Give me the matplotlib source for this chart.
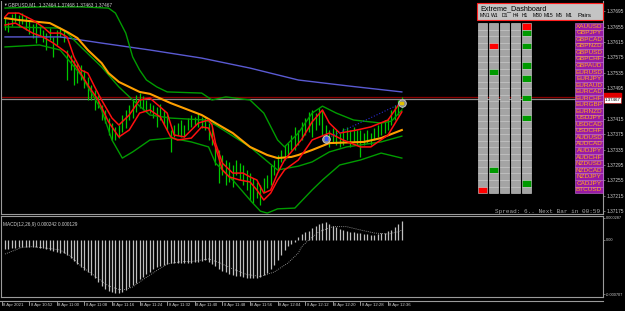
import numpy as np
import matplotlib.pyplot as plt
from matplotlib.patches import Rectangle

# GBPUSD M1, 8 Apr 2021, one bar per minute from 10:45 to 12:40
bar_high = [1.37677, 1.37667, 1.37688, 1.37693, 1.37685, 1.37690, 1.37682, 1.37672, 1.37662, 1.37667,
            1.37656, 1.37646, 1.37638, 1.37651, 1.37628, 1.37646, 1.37651, 1.37646, 1.37594, 1.37581,
            1.37568, 1.37560, 1.37555, 1.37542, 1.37524, 1.37503, 1.37490, 1.37477, 1.37451, 1.37438,
            1.37417, 1.37404, 1.37394, 1.37399, 1.37425, 1.37438, 1.37451, 1.37464, 1.37477, 1.37482,
            1.37474, 1.37464, 1.37456, 1.37451, 1.37446, 1.37454, 1.37438, 1.37425, 1.37386, 1.37399,
            1.37404, 1.37412, 1.37399, 1.37417, 1.37425, 1.37420, 1.37430, 1.37420, 1.37417, 1.37404,
            1.37391, 1.37347, 1.37334, 1.37321, 1.37308, 1.37303, 1.37295, 1.37308, 1.37300, 1.37295,
            1.37282, 1.37274, 1.37261, 1.37251, 1.37243, 1.37261, 1.37269, 1.37295, 1.37308, 1.37321,
            1.37334, 1.37347, 1.37352, 1.37373, 1.37394, 1.37386, 1.37407, 1.37417, 1.37433, 1.37438,
            1.37430, 1.37443, 1.37438, 1.37399, 1.37386, 1.37391, 1.37386, 1.37378, 1.37391, 1.37394,
            1.37386, 1.37394, 1.37386, 1.37386, 1.37378, 1.37386, 1.37378, 1.37391, 1.37399, 1.37407,
            1.37412, 1.37417, 1.37438, 1.37451, 1.37464, 1.37472]
bar_low = [1.37646, 1.37641, 1.37656, 1.37667, 1.37654, 1.37662, 1.37646, 1.37636, 1.37625, 1.37612,
           1.37630, 1.37615, 1.37594, 1.37620, 1.37576, 1.37607, 1.37628, 1.37615, 1.37516, 1.37542,
           1.37503, 1.37508, 1.37516, 1.37495, 1.37464, 1.37464, 1.37438, 1.37443, 1.37412, 1.37404,
           1.37373, 1.37360, 1.37360, 1.37365, 1.37381, 1.37391, 1.37412, 1.37417, 1.37433, 1.37443,
           1.37438, 1.37433, 1.37430, 1.37417, 1.37394, 1.37412, 1.37399, 1.37386, 1.37329, 1.37368,
           1.37373, 1.37368, 1.37368, 1.37386, 1.37394, 1.37399, 1.37394, 1.37391, 1.37386, 1.37360,
           1.37347, 1.37295, 1.37248, 1.37269, 1.37243, 1.37251, 1.37238, 1.37269, 1.37256, 1.37243,
           1.37230, 1.37204, 1.37196, 1.37209, 1.37191, 1.37225, 1.37235, 1.37243, 1.37269, 1.37282,
           1.37303, 1.37308, 1.37316, 1.37334, 1.37334, 1.37347, 1.37360, 1.37373, 1.37381, 1.37368,
           1.37386, 1.37399, 1.37373, 1.37360, 1.37342, 1.37355, 1.37347, 1.37342, 1.37347, 1.37360,
           1.37342, 1.37355, 1.37347, 1.37316, 1.37347, 1.37352, 1.37347, 1.37360, 1.37368, 1.37373,
           1.37378, 1.37386, 1.37399, 1.37412, 1.37425, 1.37443]

# indicator lines, read at selected bars
blue_idx = [0, 16, 28, 42, 57, 71, 85, 100, 115]
blue_ma = [1.37628, 1.37628, 1.37612, 1.37594, 1.37573, 1.37547, 1.37516, 1.37500, 1.37485]

bbu_idx = [0, 10, 22, 30, 32, 35, 37, 39, 41, 44, 47, 57, 60, 64, 71, 75, 79, 81, 85, 89, 92, 96, 101, 109, 112, 115]
bb_upper = [1.37703, 1.37706, 1.37706, 1.37703, 1.37690, 1.37638, 1.37576, 1.37542, 1.37516, 1.37498,
            1.37485, 1.37482, 1.37464, 1.37472, 1.37464, 1.37430, 1.37360, 1.37342, 1.37378, 1.37430,
            1.37448, 1.37430, 1.37412, 1.37404, 1.37409, 1.37438]

bbm_idx = [0, 16, 18, 22, 28, 33, 37, 42, 48, 58, 61, 71, 79, 85, 89, 94, 99, 109, 115]
bb_middle = [1.37654, 1.37651, 1.37638, 1.37602, 1.37550, 1.37498, 1.37464, 1.37425, 1.37417, 1.37412,
             1.37399, 1.37342, 1.37282, 1.37292, 1.37303, 1.37329, 1.37342, 1.37355, 1.37370]

bbl_idx = [0, 10, 16, 22, 28, 31, 34, 37, 42, 48, 54, 59, 61, 66, 71, 74, 76, 79, 84, 89, 92, 97, 103, 109, 115]
bb_lower = [1.37602, 1.37607, 1.37594, 1.37529, 1.37438, 1.37360, 1.37313, 1.37329, 1.37360, 1.37365,
            1.37355, 1.37342, 1.37300, 1.37256, 1.37204, 1.37175, 1.37170, 1.37181, 1.37183, 1.37230,
            1.37256, 1.37295, 1.37308, 1.37326, 1.37313]

orange_idx = [0, 4, 13, 18, 21, 24, 28, 30, 33, 39, 42, 48, 57, 61, 66, 71, 76, 79, 83, 85, 89, 94, 104, 109, 115]
orange_ma = [1.37677, 1.37672, 1.37664, 1.37641, 1.37625, 1.37594, 1.37560, 1.37534, 1.37511, 1.37485,
             1.37480, 1.37456, 1.37425, 1.37404, 1.37378, 1.37342, 1.37321, 1.37313, 1.37316, 1.37321,
             1.37334, 1.37352, 1.37355, 1.37365, 1.37386]

rhi_idx = [0, 1, 4, 8, 11, 13, 16, 18, 20, 22, 24, 26, 28, 31, 33, 36, 39, 42, 47, 49, 52, 56,
           59, 60, 61, 63, 66, 69, 71, 73, 75, 77, 79, 81, 84, 86, 89, 92, 94, 97, 102, 106, 111, 115]
red_high = [1.37680, 1.37690, 1.37690, 1.37672, 1.37654, 1.37638, 1.37638, 1.37628, 1.37576, 1.37542,
            1.37534, 1.37498, 1.37464, 1.37417, 1.37399, 1.37425, 1.37464, 1.37469, 1.37430, 1.37373,
            1.37368, 1.37404, 1.37412, 1.37399, 1.37352, 1.37300, 1.37274, 1.37274, 1.37264, 1.37256,
            1.37222, 1.37230, 1.37274, 1.37308, 1.37340, 1.37362, 1.37407, 1.37438, 1.37404, 1.37378,
            1.37386, 1.37394, 1.37412, 1.37464]

rlo_idx = [0, 3, 8, 11, 14, 18, 21, 24, 27, 30, 33, 36, 39, 42, 45, 48, 50, 54, 57, 59,
           61, 63, 65, 68, 71, 73, 75, 77, 79, 81, 85, 89, 94, 98, 103, 106, 111, 115]
red_low = [1.37659, 1.37664, 1.37638, 1.37628, 1.37612, 1.37586, 1.37547, 1.37503, 1.37464, 1.37407,
           1.37368, 1.37386, 1.37430, 1.37438, 1.37420, 1.37368, 1.37360, 1.37365, 1.37394, 1.37391,
           1.37342, 1.37282, 1.37264, 1.37256, 1.37251, 1.37230, 1.37204, 1.37222, 1.37256, 1.37282,
           1.37308, 1.37360, 1.37378, 1.37360, 1.37342, 1.37342, 1.37373, 1.37433]

bid_price = 1.37467
ask_price = 1.37473
trade_idx = [93, 115]
trade_price = [1.37363, 1.37456]

# MACD(12,26,9)
macd_hist = [-0.000117, -0.000114, -0.000108, -0.000102, -0.000095, -0.000091, -0.000089, -0.000087, -0.000087, -0.000091,
             -0.000100, -0.000108, -0.000120, -0.000131, -0.000144, -0.000153, -0.000164, -0.000176, -0.000202, -0.000235,
             -0.000274, -0.000317, -0.000352, -0.000398, -0.000424, -0.000463, -0.000496, -0.000542, -0.000594, -0.000639,
             -0.000666, -0.000683, -0.000694, -0.000692, -0.000679, -0.000653, -0.000617, -0.000587, -0.000555, -0.000515,
             -0.000479, -0.000444, -0.000414, -0.000385, -0.000352, -0.000335, -0.000326, -0.000313, -0.000304, -0.000300,
             -0.000298, -0.000296, -0.000296, -0.000296, -0.000296, -0.000290, -0.000281, -0.000271, -0.000261, -0.000281,
             -0.000307, -0.000339, -0.000378, -0.000405, -0.000424, -0.000441, -0.000457, -0.000467, -0.000476, -0.000487,
             -0.000496, -0.000498, -0.000498, -0.000496, -0.000483, -0.000457, -0.000428, -0.000378, -0.000320, -0.000261,
             -0.000196, -0.000131, -0.000085, -0.000046, -0.000020, 0.000039, 0.000072, 0.000098, 0.000117, 0.000157,
             0.000189, 0.000215, 0.000228, 0.000235, 0.000209, 0.000183, 0.000163, 0.000144, 0.000124, 0.000111,
             0.000104, 0.000098, 0.000091, 0.000085, 0.000078, 0.000072, 0.000065, 0.000069, 0.000076, 0.000085,
             0.000091, 0.000111, 0.000131, 0.000170, 0.000215, 0.000242]
sig_idx = [0, 5, 8, 13, 16, 19, 22, 25, 28, 30, 33, 35, 37, 39, 42, 45, 47, 51, 54, 59,
           62, 66, 70, 74, 78, 82, 85, 86, 88, 91, 95, 99, 103, 107, 111, 114, 115]
macd_signal = [-0.000183, -0.000095, -0.000087, -0.000111, -0.000131, -0.000209, -0.000339, -0.000435, -0.000535, -0.000600,
               -0.000646, -0.000646, -0.000613, -0.000548, -0.000457, -0.000369, -0.000313, -0.000283, -0.000281, -0.000248,
               -0.000294, -0.000378, -0.000450, -0.000476, -0.000418, -0.000300, -0.000170, -0.000087, 0.0, 0.000108,
               0.000174, 0.000174, 0.000131, 0.000091, 0.000078, 0.000108, 0.000129]

price_ticks = [1.37695, 1.37655, 1.37615, 1.37575, 1.37535, 1.37495, 1.37415,
               1.37375, 1.37335, 1.37295, 1.37255, 1.37215, 1.37175]
macd_ticks = [0.000287, 0.0, -0.000707]
macd_tick_labels = ['0.000287', '0.00', '-0.000707']
time_pos = [-1, 7, 15, 23, 31, 39, 47, 55, 63, 71, 79, 87, 95, 103, 111]
time_labels = ['8 Apr 2021', '8 Apr 10:52', '8 Apr 11:00', '8 Apr 11:08', '8 Apr 11:16',
               '8 Apr 11:24', '8 Apr 11:32', '8 Apr 11:40', '8 Apr 11:48', '8 Apr 11:56',
               '8 Apr 12:04', '8 Apr 12:12', '8 Apr 12:20', '8 Apr 12:28', '8 Apr 12:36']

# dashboard content
timeframes = ['MN1', 'W1', 'D1', 'H4', 'H1', 'M30', 'M15', 'M5', 'M1']
pairs = ['XAUUSD', 'GBPJPY', 'GBPCAD', 'GBPNZD', 'GBPUSD', 'GBPCHF', 'GBPAUD', 'EURUSD',
         'EURJPY', 'EURAUD', 'EURCAD', 'EURCHF', 'EURGBP', 'EURNZD', 'USDJPY', 'USDCAD',
         'USDCHF', 'AUDUSD', 'AUDCAD', 'AUDJPY', 'AUDCHF', 'NZDUSD', 'NZDCAD', 'NZDJPY',
         'CADJPY', 'BTCUSD']
red_cells = {'MN1': ['BTCUSD'], 'W1': ['GBPNZD'], 'H1': ['XAUUSD']}
green_cells = {'W1': ['EURUSD', 'NZDCAD'],
               'H1': ['GBPJPY', 'GBPNZD', 'GBPAUD', 'EURJPY', 'EURCHF', 'USDJPY', 'CADJPY']}

W, H = 625, 311
fig = plt.figure(figsize=(W / 100, H / 100), dpi=100)
fig.patch.set_facecolor('black')
font = ['Liberation Sans', 'DejaVu Sans']
frame = '#9a9a9a'
txt = '#cfcfcf'


def axes_px(x0, y0, x1, y1):
    return fig.add_axes([x0 / W, 1 - y1 / H, (x1 - x0) / W, (y1 - y0) / H])


xlim = (-1.16, 173.3)
x = np.arange(len(bar_high))

# main price window
ax = axes_px(1, 1, 603, 214)
ax.set_facecolor('black')
ax.set_xlim(*xlim)
ax.set_ylim(1.371676, 1.377214)
ax.vlines(x, bar_low, bar_high, color='#00c800', lw=0.9, zorder=2)
ax.plot(blue_idx, blue_ma, color='#5a5ad2', lw=1, zorder=3)
ax.plot(bbu_idx, bb_upper, color='#009c00', lw=1, zorder=3)
ax.plot(bbm_idx, bb_middle, color='#009c00', lw=1, zorder=3)
ax.plot(bbl_idx, bb_lower, color='#009c00', lw=1, zorder=3)
ax.plot(orange_idx, orange_ma, color='#ffa000', lw=1.5, zorder=3)
ax.plot(rhi_idx, red_high, color='#ff1010', lw=1.1, zorder=3)
ax.plot(rlo_idx, red_low, color='#ff1010', lw=1.1, zorder=3)
ax.axhline(ask_price, color='#8b0000', lw=0.9, zorder=1)
ax.axhline(bid_price, color='#8c8c8c', lw=0.9, zorder=1)
ax.plot(trade_idx, trade_price, ls=':', color='#2a2ad0', lw=0.8, zorder=4)
ax.scatter(trade_idx, trade_price, s=30, color='#8a8a8a', edgecolors='#d0d0d0', linewidths=0.6, zorder=5)
ax.scatter(trade_idx, trade_price, s=4, marker='s', color=['#3050ff', '#e0c000'], zorder=6)

ax.yaxis.tick_right()
ax.set_yticks(price_ticks)
ax.set_yticklabels([f'{p:.5f}' for p in price_ticks], family=font)
ax.tick_params(axis='y', labelsize=3.4, labelcolor=txt, color=frame, length=1.5, width=0.5, pad=0.8)
ax.set_xticks([])
for s in ax.spines.values():
    s.set_color(frame)
    s.set_linewidth(0.8)
ax.spines['top'].set_visible(False)

yt = ax.get_yaxis_transform()
ax.text(1.003, ask_price + 0.00002, '1.37473', transform=yt, fontsize=3.2, color='#e00000', va='center',
        family=font, bbox=dict(boxstyle='square,pad=0.12', fc='#e00000', ec='#e00000'), zorder=7)
ax.text(1.003, bid_price - 0.00003, '1.37467', transform=yt, fontsize=3.2, color='black', va='center',
        family=font, bbox=dict(boxstyle='square,pad=0.12', fc='white', ec='#c00000', lw=0.4), zorder=8)

# MACD window
ax2 = axes_px(1, 216, 603, 297)
ax2.set_facecolor('black')
ax2.set_xlim(*xlim)
ax2.set_ylim(-0.000744, 0.000313)
ax2.vlines(x, 0, macd_hist, color='#c0c0c0', lw=0.9)
ax2.plot(sig_idx, macd_signal, color='#b0b0b0', ls=(0, (1, 1.5)), lw=0.6)
ax2.yaxis.tick_right()
ax2.set_yticks(macd_ticks)
ax2.set_yticklabels(macd_tick_labels, family=font)
ax2.tick_params(axis='y', labelsize=2.8, labelcolor=txt, color=frame, length=1.5, width=0.5, pad=0.8)
ax2.set_xticks([])
for s in ax2.spines.values():
    s.set_color(frame)
    s.set_linewidth(0.8)
ax2.text(0.003, 0.92, 'MACD(12,26,9) 0.000242 0.000129', transform=ax2.transAxes,
         fontsize=3.4, color=txt, va='top', family=font)

xt = ax2.get_xaxis_transform()
for pos, lab in zip(time_pos, time_labels):
    ax2.plot([pos, pos], [-0.05, -0.1], transform=xt, clip_on=False, color=txt, lw=0.5)
    ax2.text(pos + 0.4, -0.1, lab, transform=xt, fontsize=3.1, color=txt,
             ha='left', va='center', family=font)

# overlay in pixel units: header text, dashboard, status text
ov = fig.add_axes([0, 0, 1, 1])
ov.set_xlim(0, W)
ov.set_ylim(H, 0)
ov.axis('off')
ov.patch.set_alpha(0)
ov.set_zorder(10)

ov.plot([0, 603], [301, 301], color=frame, lw=0.8)
ov.text(3, 5, '▼', fontsize=2.6, color=txt, va='center', family=font)
ov.text(8, 5, 'GBPUSD,M1  1.37464 1.37468 1.37463 1.37467', fontsize=3.4,
        color=txt, va='center', family=font)

ov.add_patch(Rectangle((477, 3), 126, 17, fc='#c4c4c4', ec='#ff2020', lw=0.8))
ov.text(480, 8.6, 'Extreme_Dashboard', fontsize=5.2, color='black', va='center', family=font)
tf_x = [480, 491, 502, 513, 522, 533, 544, 556, 566, 578]
for xx, lab in zip(tf_x, timeframes + ['Pairs']):
    ov.text(xx, 15.6, lab, fontsize=3.6 if lab != 'Pairs' else 4.4, color='black',
            va='center', family=font)

row_h = 6.54
for c, tf in enumerate(timeframes[:5]):
    for r, pair in enumerate(pairs):
        fc = '#a4a4a4'
        if pair in red_cells.get(tf, []):
            fc = '#ff0000'
        elif pair in green_cells.get(tf, []):
            fc = '#009a00'
        ov.add_patch(Rectangle((478 + 11 * c, 23 + r * row_h), 9, row_h,
                               fc=fc, ec='#d6d6d6', lw=0.4))

for r, pair in enumerate(pairs):
    ov.add_patch(Rectangle((575, 23 + r * row_h), 28, row_h, fc='#981aa6', ec='#c878d8', lw=0.4))
    ov.text(589, 23 + (r + 0.5) * row_h, pair, fontsize=4.6, color='#ffa820',
            ha='center', va='center', family=font)

ov.text(600, 211, 'Spread: 6.. Next Bar in 00:59', fontsize=4.3, color='#a8a8a8',
        ha='right', va='center', family=['Liberation Mono', 'DejaVu Sans Mono'])

fig.savefig('out.png', dpi=100, facecolor='black')
